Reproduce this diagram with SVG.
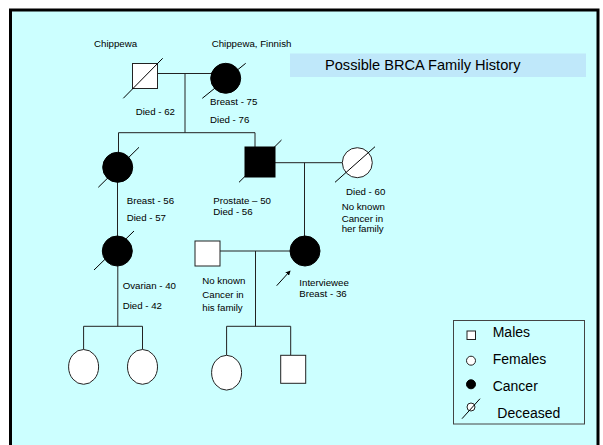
<svg xmlns="http://www.w3.org/2000/svg" width="603" height="445" viewBox="0 0 603 445">
<style>
.ln{stroke:#222;stroke-width:1;fill:none}
.m{fill:#fff;stroke:#222;stroke-width:1}
.f{fill:#fff;stroke:#222;stroke-width:1}
.c{fill:#000;stroke:#000;stroke-width:1}
.d{stroke:#000;stroke-width:1}
.t{font-family:"Liberation Sans",Arial,sans-serif;font-size:9.7px;fill:#000}
.lg{font-family:"Liberation Sans",Arial,sans-serif;font-size:14px;fill:#000}
</style>
<defs>
<marker id="ah" viewBox="0 0 6 6" refX="5" refY="3" markerWidth="5" markerHeight="5" orient="auto"><path d="M0,0 L6,3 L0,6 z" fill="#000"/></marker>
</defs>
<rect x="0" y="0" width="603" height="445" fill="#fff"/>
<rect x="10.5" y="10" width="587.5" height="450" fill="#ccffff" stroke="#000" stroke-width="3"/>
<g id="title">
<rect x="290" y="53.5" width="296" height="23.5" fill="#bfe8fa"/>
<text x="325" y="69.5" style="font-family:'Liberation Sans',Arial,sans-serif;font-size:14.6px;fill:#000">Possible BRCA Family History</text>
</g>
<g id="connectors">
<line class="ln" x1="157" y1="73.5" x2="212" y2="73.5"/>
<line class="ln" x1="185" y1="73.5" x2="185" y2="132.7"/>
<line class="ln" x1="118.5" y1="132.7" x2="255" y2="132.7"/>
<line class="ln" x1="118.5" y1="132.7" x2="118.5" y2="153"/>
<line class="ln" x1="255" y1="132.7" x2="255" y2="147"/>
<line class="ln" x1="117.5" y1="182" x2="117.5" y2="236"/>
<line class="ln" x1="275" y1="162.7" x2="342" y2="162.7"/>
<line class="ln" x1="304.5" y1="162.7" x2="304.5" y2="236"/>
<line class="ln" x1="220" y1="251" x2="290" y2="251"/>
<line class="ln" x1="255.5" y1="251" x2="255.5" y2="326.3"/>
<line class="ln" x1="226.6" y1="326.3" x2="290.7" y2="326.3"/>
<line class="ln" x1="226.6" y1="326.3" x2="226.6" y2="355.3"/>
<line class="ln" x1="290.7" y1="326.3" x2="290.7" y2="355.3"/>
<line class="ln" x1="117.8" y1="266" x2="117.8" y2="326.3"/>
<line class="ln" x1="83.6" y1="326.3" x2="142.5" y2="326.3"/>
<line class="ln" x1="83.6" y1="326.3" x2="83.6" y2="349.5"/>
<line class="ln" x1="142.5" y1="326.3" x2="142.5" y2="349.5"/>
<line class="d" x1="276.7" y1="285.7" x2="290" y2="271" marker-end="url(#ah)"/>
</g>
<g id="grandfather">
<rect class="m" x="132.5" y="63.5" width="25" height="25"/>
<line class="d" x1="123.3" y1="98.3" x2="162.7" y2="58.3"/>
<text class="t" x="94" y="46.7">Chippewa</text>
<text class="t" x="135.7" y="115">Died - 62</text>
</g>
<g id="grandmother">
<circle class="c" cx="225.7" cy="78.3" r="15"/>
<line class="d" x1="202.3" y1="98.3" x2="245.7" y2="63.3"/>
<text class="t" x="211.7" y="46.7">Chippewa, Finnish</text>
<text class="t" x="210" y="105">Breast - 75</text>
<text class="t" x="210" y="123.3">Died - 76</text>
</g>
<g id="aunt">
<circle class="c" cx="117.7" cy="167.3" r="15"/>
<line class="d" x1="98.3" y1="187.3" x2="139" y2="147.3"/>
<text class="t" x="126.7" y="204">Breast - 56</text>
<text class="t" x="126.7" y="221">Died - 57</text>
</g>
<g id="father">
<rect class="c" x="245" y="147" width="30" height="30"/>
<line class="d" x1="239" y1="182.3" x2="281.5" y2="140"/>
<text class="t" x="213.3" y="204">Prostate – 50</text>
<text class="t" x="213.3" y="215">Died - 56</text>
</g>
<g id="mother">
<circle class="f" cx="357.3" cy="162.7" r="15"/>
<line class="d" x1="335" y1="182.3" x2="375" y2="146.7"/>
<text class="t" x="346" y="195">Died - 60</text>
<text class="t" x="341.7" y="210">No known</text>
<text class="t" x="341.7" y="221.7">Cancer in</text>
<text class="t" x="341.7" y="232.3">her family</text>
</g>
<g id="cousin">
<circle class="c" cx="117.3" cy="251" r="15"/>
<line class="d" x1="94" y1="270" x2="134" y2="231"/>
<text class="t" x="122.7" y="288.5">Ovarian - 40</text>
<text class="t" x="122.7" y="309">Died - 42</text>
</g>
<g id="husband">
<rect class="m" x="195" y="241" width="25" height="25"/>
<text class="t" x="202.3" y="284">No known</text>
<text class="t" x="202.3" y="297.5">Cancer in</text>
<text class="t" x="202.3" y="310.5">his family</text>
</g>
<g id="interviewee">
<circle class="c" cx="305" cy="251" r="15"/>
<text class="t" x="299.3" y="285.7">Interviewee</text>
<text class="t" x="299.3" y="297.3">Breast - 36</text>
</g>
<g id="child1"><ellipse class="f" cx="83.6" cy="366.9" rx="15" ry="17.4"/></g>
<g id="child2"><ellipse class="f" cx="142.5" cy="366.9" rx="15" ry="17.4"/></g>
<g id="child3"><ellipse class="f" cx="226.6" cy="372.7" rx="15" ry="17.4"/></g>
<g id="child4"><rect class="m" x="280.7" y="355.3" width="25" height="28"/></g>
<g id="legend">
<rect x="453.5" y="320.5" width="131" height="103.5" fill="none" stroke="#444" stroke-width="1"/>
<rect class="m" x="467" y="331" width="8.5" height="8.5"/>
<text class="lg" x="492.7" y="337">Males</text>
<circle class="f" cx="471" cy="360.7" r="4.5"/>
<text class="lg" x="492.7" y="364">Females</text>
<circle class="c" cx="471" cy="384.3" r="4.5"/>
<text class="lg" x="492.7" y="390.7">Cancer</text>
<circle class="f" cx="471" cy="407" r="4"/>
<line class="d" x1="462" y1="418.7" x2="480" y2="398.7"/>
<text class="lg" x="497.3" y="418.3">Deceased</text>
</g>
</svg>
